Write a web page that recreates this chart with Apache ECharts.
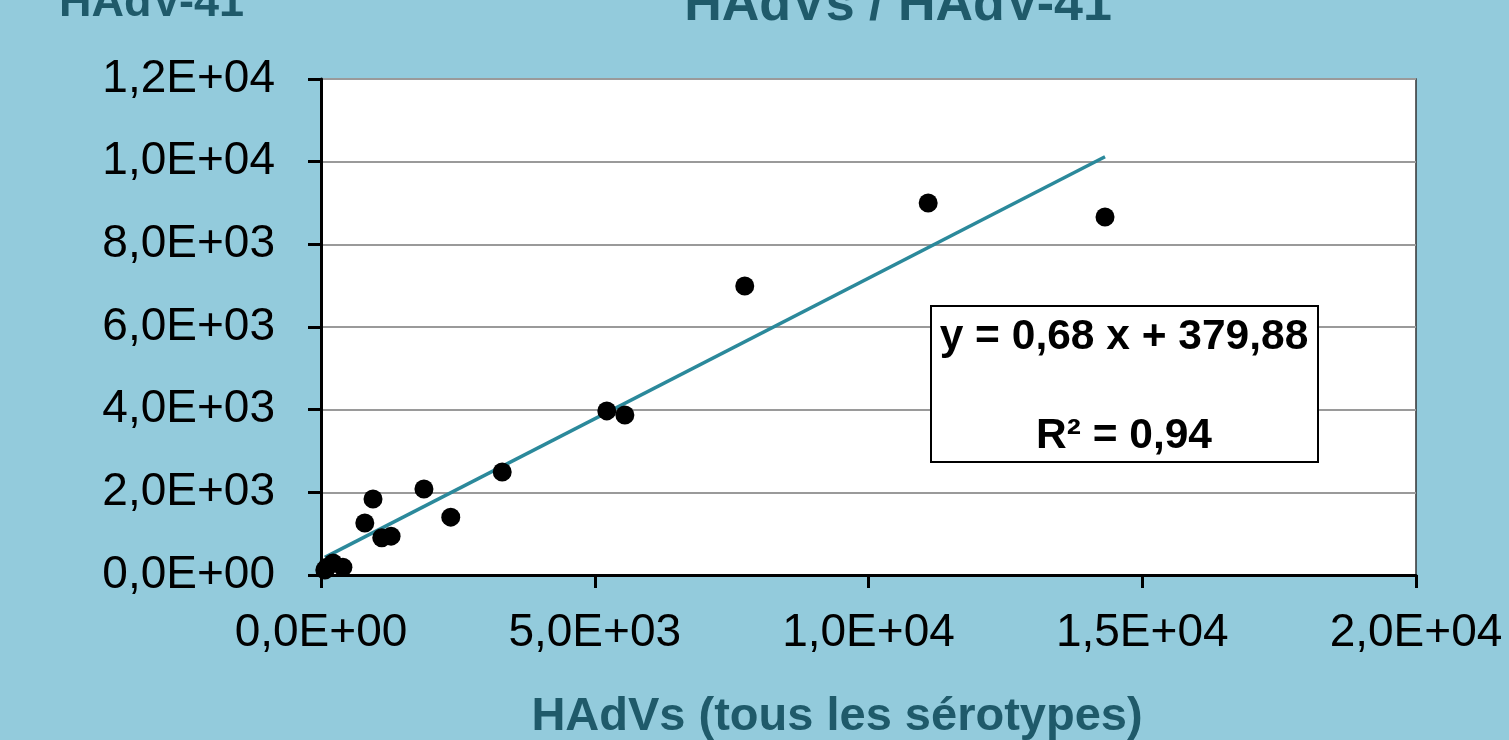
<!DOCTYPE html>
<html>
<head>
<meta charset="utf-8">
<script src="https://cdn.jsdelivr.net/npm/echarts@6/dist/echarts.min.js"></script>
<style>
  html, body { margin: 0; padding: 0; background: #93cbdc; }
  #chart { width: 1509px; height: 740px; }
</style>
</head>
<body>
<div id="chart"></div>
<script>
// HAdVs (all serotypes) vs HAdV-41 concentrations
const hadvsAll = [11090, 14320, 7740, 5220, 5550, 3310, 1880, 2370, 950, 800, 1110, 1280, 110, 220, 400, 70];
const hadv41   = [9000, 8660, 6990, 3970, 3870, 2490, 2080, 1400, 1840, 1260, 900, 940, 190, 290, 190, 120];

// Linear trend: y = slope * x + intercept
const slope = 0.68;
const intercept = 379.88;
const rSquared = 0.94;

const titleText = 'HAdVs / HAdV-41';
const yName = 'HAdV-41';
const xName = 'HAdVs (tous les sérotypes)';

const FONT = '"Liberation Sans", Arial, sans-serif';
const TEAL_DARK = '#1f5a6a';

function sci(v) {
  // 12000 -> "1,2E+04"
  const [m, e] = v.toExponential(1).split('e');
  const sign = e[0] === '-' ? '-' : '+';
  const exp = Math.abs(parseInt(e, 10)).toString().padStart(2, '0');
  return m.replace('.', ',') + 'E' + sign + exp;
}
function dec(v) { return v.toFixed(2).replace('.', ','); }

const points = hadvsAll.map((x, i) => [x, hadv41[i]]);
const xMin = Math.min(...hadvsAll);
const xMax = Math.max(...hadvsAll);
const trend = [[xMin, slope * xMin + intercept], [xMax, slope * xMax + intercept]];

const chart = echarts.init(document.getElementById('chart'), null, { renderer: 'canvas' });

chart.setOption({
  backgroundColor: '#93cbdc',
  animation: false,
  grid: {
    left: 321, right: 93, top: 79, bottom: 165,
    show: true, backgroundColor: '#ffffff', borderColor: '#333333', borderWidth: 1.5
  },
  xAxis: {
    type: 'value', min: 0, max: 20000, interval: 5000,
    axisLine: { show: true, onZero: false, lineStyle: { color: '#000', width: 3 } },
    axisTick: { show: true, length: 13, lineStyle: { color: '#000', width: 3 } },
    axisLabel: { formatter: sci, fontSize: 46, fontFamily: FONT, color: '#000', margin: 35 },
    splitLine: { show: false }
  },
  yAxis: {
    type: 'value', min: 0, max: 12000, interval: 2000,
    axisLine: { show: true, onZero: false, lineStyle: { color: '#000', width: 3 } },
    axisTick: { show: true, length: 13, lineStyle: { color: '#000', width: 3 } },
    axisLabel: { formatter: sci, fontSize: 46, fontFamily: FONT, color: '#000', margin: 46 },
    splitLine: { show: true, lineStyle: { color: '#9a9a9a', width: 2 } }
  },
  series: [
    {
      type: 'line', data: trend, showSymbol: false, symbol: 'none', z: 2,
      lineStyle: { color: '#2b899b', width: 3.5 }
    },
    {
      type: 'scatter', data: points, symbol: 'circle', symbolSize: 19, z: 3,
      itemStyle: { color: '#000', opacity: 1 }
    }
  ],
  graphic: [
    {
      type: 'text', left: 59, top: -19,
      style: { text: yName, font: 'bold 45px ' + FONT, fill: TEAL_DARK }
    },
    {
      type: 'text', x: 898, y: 6,
      style: { text: titleText, font: 'bold 52px ' + FONT, fill: TEAL_DARK, align: 'center', verticalAlign: 'middle' }
    },
    {
      type: 'text', x: 837, y: 717,
      style: { text: xName, font: 'bold 47px ' + FONT, fill: TEAL_DARK, align: 'center', verticalAlign: 'middle' }
    },
    {
      type: 'rect', z: 10,
      shape: { x: 931, y: 306, width: 387, height: 156 },
      style: { fill: '#ffffff', stroke: '#000000', lineWidth: 2 }
    },
    {
      type: 'text', z: 11, x: 1124, y: 337,
      style: { text: 'y = ' + dec(slope) + ' x + ' + dec(intercept), font: 'bold 42.5px ' + FONT, fill: '#000', align: 'center', verticalAlign: 'middle' }
    },
    {
      type: 'text', z: 11, x: 1124, y: 436,
      style: { text: 'R² = ' + dec(rSquared), font: 'bold 42.5px ' + FONT, fill: '#000', align: 'center', verticalAlign: 'middle' }
    }
  ]
});
</script>
</body>
</html>
